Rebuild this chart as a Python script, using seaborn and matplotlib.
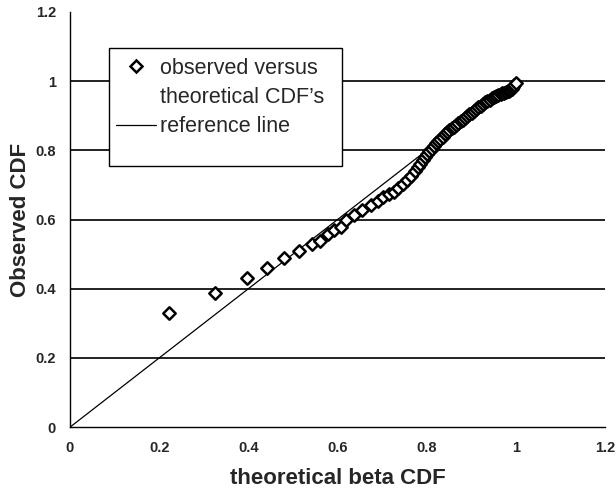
import matplotlib
matplotlib.use("Agg")
import matplotlib.pyplot as plt
import seaborn as sns
import pandas as pd
from matplotlib.lines import Line2D
from matplotlib.patches import Rectangle
from matplotlib.ticker import FormatStrFormatter

# ---- data ----
theoretical = [0.221, 0.326, 0.396, 0.441, 0.481, 0.513, 0.542, 0.560, 0.578, 0.593,
               0.609, 0.620, 0.638, 0.656, 0.676, 0.690, 0.703, 0.715, 0.726, 0.736,
               0.746, 0.756, 0.765, 0.773, 0.780, 0.786, 0.791, 0.796, 0.801, 0.806,
               0.811, 0.816, 0.821, 0.826, 0.831, 0.836, 0.841, 0.846, 0.851, 0.856,
               0.861, 0.866, 0.871, 0.876, 0.881, 0.886, 0.891, 0.896, 0.901, 0.906,
               0.911, 0.916, 0.921, 0.926, 0.931, 0.936, 0.941, 0.946, 0.951, 0.956,
               0.961, 0.966, 0.970, 0.974, 0.978, 0.982, 0.985, 0.988, 0.991, 0.994,
               0.997, 1.000]
observed = [0.329, 0.389, 0.431, 0.460, 0.489, 0.509, 0.530, 0.538, 0.558, 0.570,
            0.578, 0.599, 0.613, 0.628, 0.643, 0.655, 0.665, 0.673, 0.681, 0.692,
            0.704, 0.714, 0.727, 0.740, 0.752, 0.762, 0.771, 0.780, 0.789, 0.797,
            0.805, 0.813, 0.820, 0.827, 0.834, 0.840, 0.846, 0.852, 0.858, 0.864,
            0.869, 0.874, 0.879, 0.884, 0.889, 0.894, 0.899, 0.904, 0.909, 0.914,
            0.919, 0.924, 0.929, 0.934, 0.939, 0.943, 0.947, 0.951, 0.954, 0.957,
            0.960, 0.963, 0.965, 0.967, 0.969, 0.971, 0.973, 0.975, 0.978, 0.982,
            0.988, 0.995]
ref_x = [0.0, 1.0]
ref_y = [0.0, 1.0]
x_ticks = [0, 0.2, 0.4, 0.6, 0.8, 1.0, 1.2]
y_ticks = [0, 0.2, 0.4, 0.6, 0.8, 1.0, 1.2]
grid_levels = [0.2, 0.4, 0.6, 0.8, 1.0]
x_label = "theoretical beta CDF"
y_label = "Observed CDF"
legend_labels = ["observed versus", "theoretical CDF\u2019s", "reference line"]

sns.set_theme(style="white")
plt.rcParams['font.family'] = ['Liberation Sans', 'DejaVu Sans']

df_pts = pd.DataFrame({"x": theoretical, "y": observed})
df_ref = pd.DataFrame({"x": ref_x, "y": ref_y})

fig = plt.figure(figsize=(6.16, 4.91), dpi=100)
ax = fig.add_axes([0.1136, 0.130, 0.8685, 0.8456])

for g in grid_levels:
    ax.axhline(g, color="#111111", lw=1.3, zorder=1)

sns.lineplot(data=df_ref, x="x", y="y", ax=ax, color="black", lw=0.9, zorder=2,
             legend=False)
sns.scatterplot(data=df_pts, x="x", y="y", ax=ax, marker="D", s=40,
                facecolor="white", edgecolor="black", linewidth=1.8, zorder=3,
                legend=False)

ax.set_xlim(0, 1.2)
ax.set_ylim(0, 1.2)
ax.set_xticks(x_ticks)
ax.set_yticks(y_ticks)
ax.xaxis.set_major_formatter(FormatStrFormatter('%g'))
ax.yaxis.set_major_formatter(FormatStrFormatter('%g'))
ax.tick_params(axis='both', which='major', direction='out', length=4, width=1,
               color='black', labelsize=10.5, pad=6)
for lab in ax.get_xticklabels() + ax.get_yticklabels():
    lab.set_fontweight('bold')
ax.set_xlabel(x_label, fontsize=16, fontweight='bold', labelpad=9)
ax.set_ylabel(y_label, fontsize=16, fontweight='bold', labelpad=3)

for side in ['top', 'right']:
    ax.spines[side].set_visible(False)
for side in ['left', 'bottom']:
    ax.spines[side].set_color('black')
    ax.spines[side].set_linewidth(1.0)

# legend box (white, black border) covering the grid lines
box = Rectangle((0.0729, 0.629), 0.435, 0.284, transform=ax.transAxes,
                facecolor='white', edgecolor='black', lw=1.0, zorder=4)
ax.add_patch(box)

handles = [
    Line2D([], [], marker='D', ls='none', markersize=6, markerfacecolor='white',
           markeredgecolor='black', markeredgewidth=1.8),
    Line2D([], [], ls='none'),
    Line2D([], [], color='black', lw=0.9),
]
leg = ax.legend(handles, legend_labels, loc='upper left',
                bbox_to_anchor=(0.086, 0.89), fontsize=15.5, frameon=False,
                handlelength=1.85, handletextpad=0.2, labelspacing=0.39,
                borderpad=0.0, borderaxespad=0)
leg.set_zorder(5)

fig.savefig("out.png", dpi=100)
